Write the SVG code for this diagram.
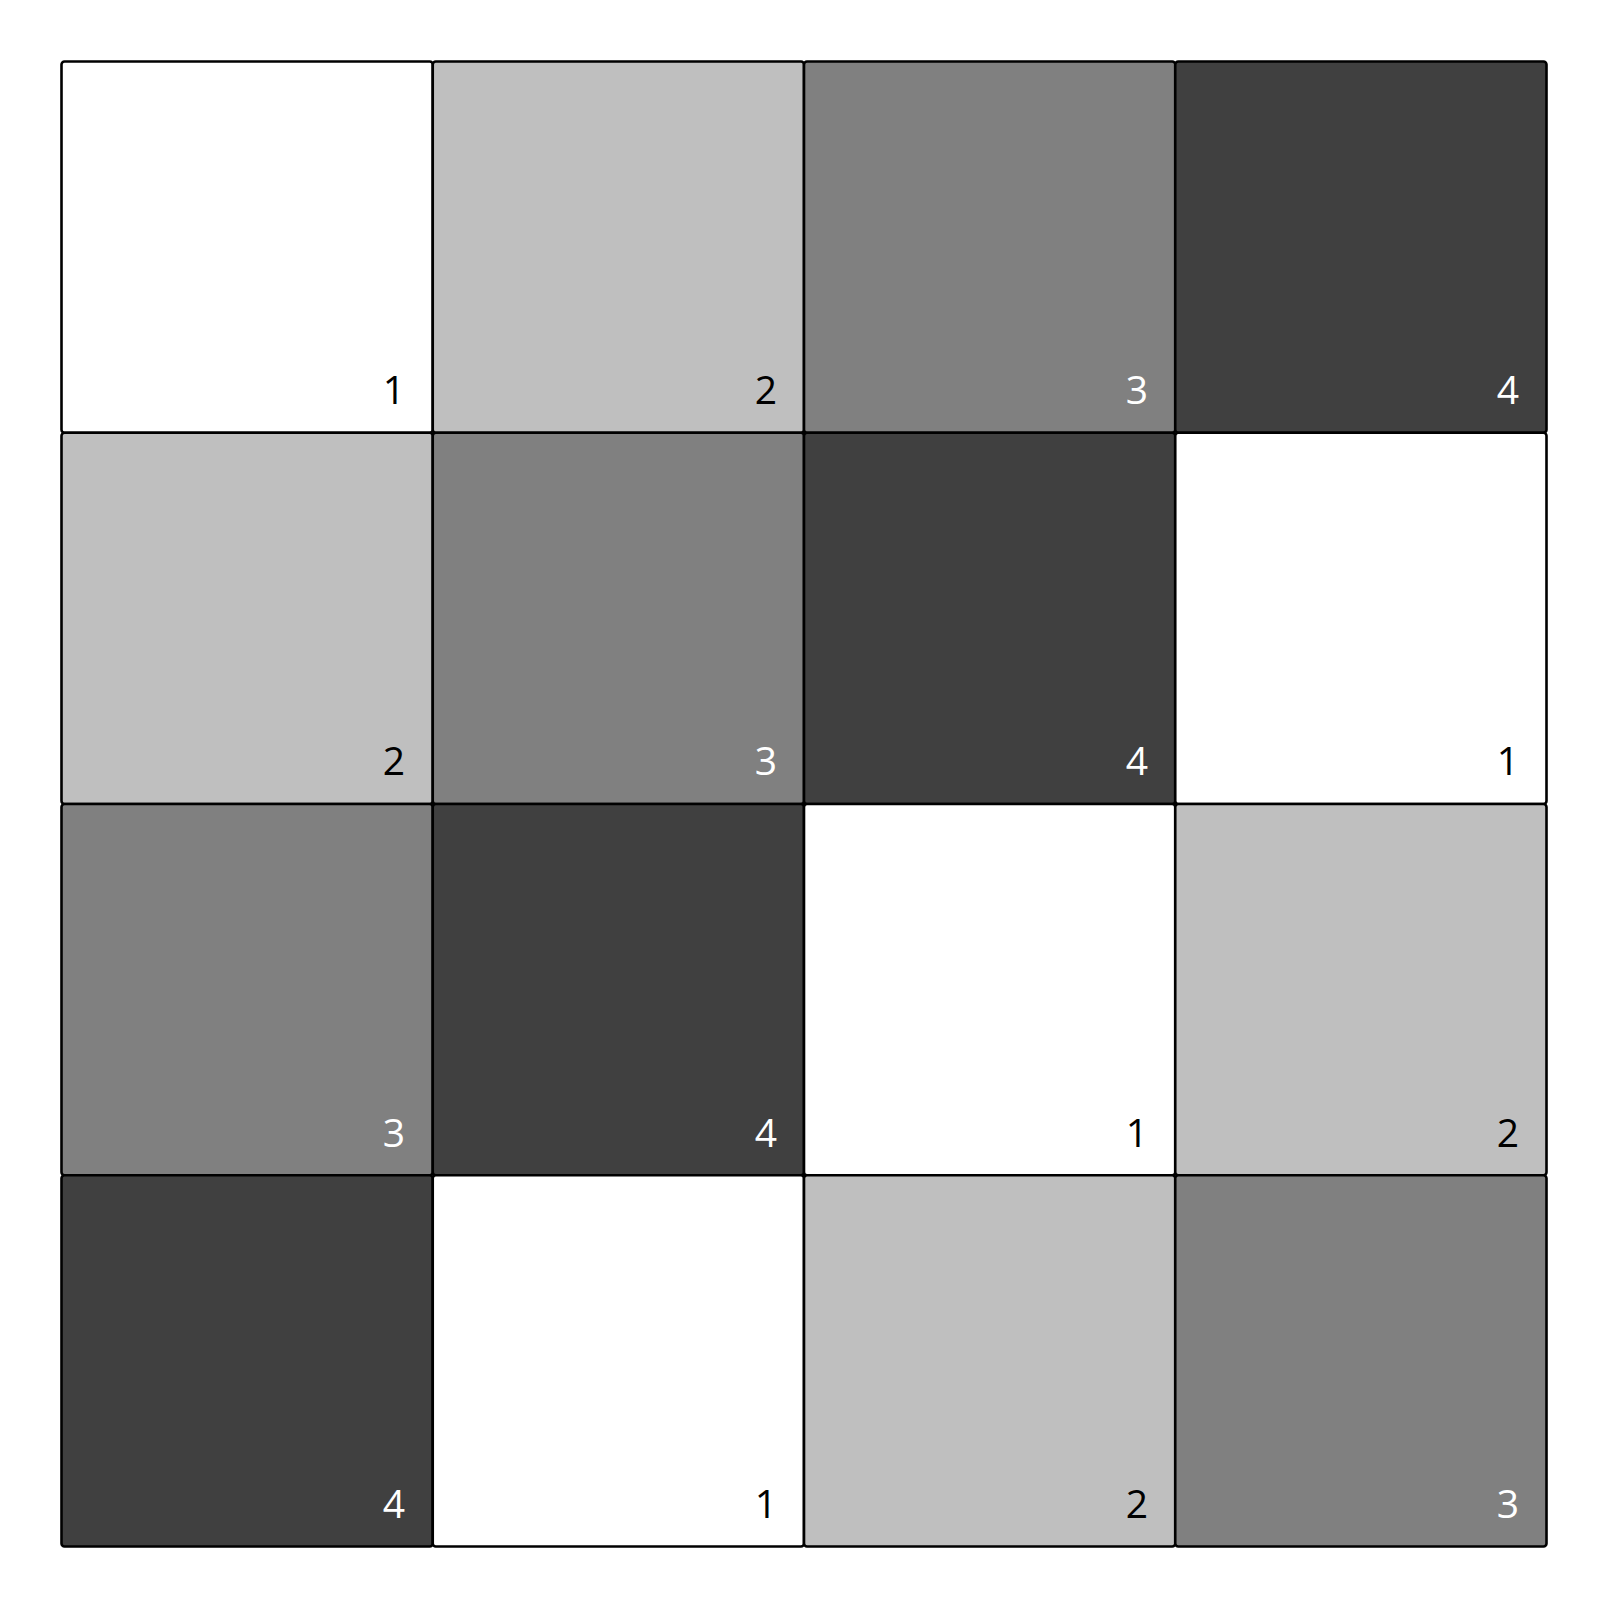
<svg xmlns="http://www.w3.org/2000/svg" width="1608" height="1607" viewBox="0 0 1608 1607">
<style>
rect{stroke:#000;stroke-width:2.6}
.v1{fill:#fff}.v2{fill:#bfbfbf}.v3{fill:#808080}.v4{fill:#404040}
text{font-family:"Open Sans","Noto Sans",sans-serif;font-size:39px;text-anchor:end}
.d{fill:#000}.l{fill:#fff}
</style>
<rect x="0" y="0" width="1608" height="1607" style="fill:#fff;stroke:none"/>
<g id="c00"><rect class="v1" x="61.5" y="61.5" width="371.25" height="371.25" rx="3"/><text class="d" x="405" y="404">1</text></g>
<g id="c01"><rect class="v2" x="432.75" y="61.5" width="371.25" height="371.25" rx="3"/><text class="d" x="777" y="404">2</text></g>
<g id="c02"><rect class="v3" x="804" y="61.5" width="371.25" height="371.25" rx="3"/><text class="l" x="1148" y="404">3</text></g>
<g id="c03"><rect class="v4" x="1175.25" y="61.5" width="371.25" height="371.25" rx="3"/><text class="l" x="1519" y="404">4</text></g>
<g id="c10"><rect class="v2" x="61.5" y="432.75" width="371.25" height="371.25" rx="3"/><text class="d" x="405" y="775">2</text></g>
<g id="c11"><rect class="v3" x="432.75" y="432.75" width="371.25" height="371.25" rx="3"/><text class="l" x="777" y="775">3</text></g>
<g id="c12"><rect class="v4" x="804" y="432.75" width="371.25" height="371.25" rx="3"/><text class="l" x="1148" y="775">4</text></g>
<g id="c13"><rect class="v1" x="1175.25" y="432.75" width="371.25" height="371.25" rx="3"/><text class="d" x="1519" y="775">1</text></g>
<g id="c20"><rect class="v3" x="61.5" y="804" width="371.25" height="371.25" rx="3"/><text class="l" x="405" y="1147">3</text></g>
<g id="c21"><rect class="v4" x="432.75" y="804" width="371.25" height="371.25" rx="3"/><text class="l" x="777" y="1147">4</text></g>
<g id="c22"><rect class="v1" x="804" y="804" width="371.25" height="371.25" rx="3"/><text class="d" x="1148" y="1147">1</text></g>
<g id="c23"><rect class="v2" x="1175.25" y="804" width="371.25" height="371.25" rx="3"/><text class="d" x="1519" y="1147">2</text></g>
<g id="c30"><rect class="v4" x="61.5" y="1175.25" width="371.25" height="371.25" rx="3"/><text class="l" x="405" y="1518">4</text></g>
<g id="c31"><rect class="v1" x="432.75" y="1175.25" width="371.25" height="371.25" rx="3"/><text class="d" x="777" y="1518">1</text></g>
<g id="c32"><rect class="v2" x="804" y="1175.25" width="371.25" height="371.25" rx="3"/><text class="d" x="1148" y="1518">2</text></g>
<g id="c33"><rect class="v3" x="1175.25" y="1175.25" width="371.25" height="371.25" rx="3"/><text class="l" x="1519" y="1518">3</text></g>
<g id="connectors"/>
</svg>
